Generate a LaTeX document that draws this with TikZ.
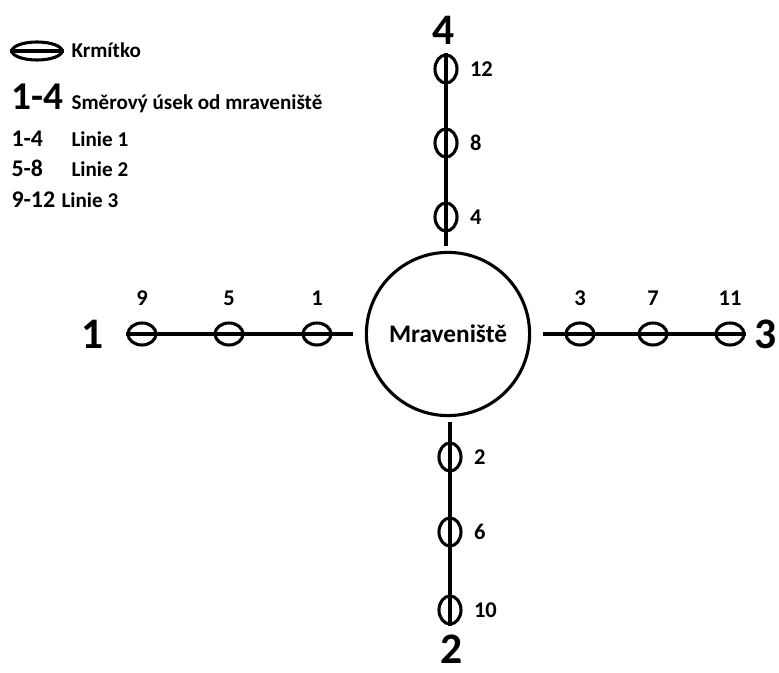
\documentclass[tikz,border=0pt]{standalone}
\usepackage{fontspec}
\setmainfont{Carlito}
\usepackage{tikz}
\usetikzlibrary{positioning,shapes.geometric,calc}

\begin{document}
\begin{tikzpicture}[
  hillnode/.style={draw, circle, line width=2.2pt, minimum size=4.08cm, inner sep=0pt,
    font=\fontsize{18}{20}\selectfont\bfseries},
  hfeed/.style={draw, ellipse, line width=2.2pt, minimum width=0.7cm, minimum height=0.55cm, inner sep=0pt},
  vfeed/.style={draw, ellipse, line width=2.2pt, minimum width=0.55cm, minimum height=0.7cm, inner sep=0pt},
  num/.style={font=\fontsize{16}{18}\selectfont\bfseries, inner sep=0pt},
  dir/.style={font=\fontsize{31}{33}\selectfont\bfseries, inner sep=0pt},
  legtxt/.style={font=\fontsize{15}{17}\selectfont\bfseries, inner sep=0pt},
  legnum/.style={font=\fontsize{17}{19}\selectfont\bfseries, inner sep=0pt},
  legbig/.style={font=\fontsize{28}{30}\selectfont\bfseries, inner sep=0pt},
  trail/.style={line width=2.4pt},
  line width=2.2pt, color=black
]
\useasboundingbox (-11.2,-8.475) rectangle (8.275,8.35);

\node[hillnode] (hill) at (0,0) {Mraveniště};

\node[hfeed, label={[num, label distance=3.5mm]above:9}] (f9) at (-7.65,0) {};
\node[hfeed, label={[num, label distance=3.5mm]above:5}] (f5) at (-5.475,0) {};
\node[hfeed, label={[num, label distance=3.5mm]above:1}] (f1) at (-3.275,0) {};

\node[hfeed, label={[num, label distance=3.5mm]above:3}] (f3) at (3.3,0) {};
\node[hfeed, label={[num, label distance=3.5mm]above:7}] (f7) at (5.125,0) {};
\node[hfeed, label={[num, label distance=3.5mm]above:11}] (f11) at (7.05,0) {};

\node[vfeed, label={[num, label distance=2.5mm]right:4}] (f4) at (-0.05,2.925) {};
\node[vfeed, label={[num, label distance=2.5mm]right:8}] (f8) at (-0.05,4.775) {};
\node[vfeed, label={[num, label distance=2.5mm]right:12}] (f12) at (-0.05,6.625) {};

\node[vfeed, label={[num, label distance=2.5mm]right:2}] (f2) at (0.05,-3.075) {};
\node[vfeed, label={[num, label distance=2.5mm]right:6}] (f6) at (0.05,-4.95) {};
\node[vfeed, label={[num, label distance=2.5mm]right:10}] (f10) at (0.05,-6.9) {};

\draw[trail] (f9.west) -- ([xshift=-3mm]hill.west);
\draw[trail] ([xshift=3mm]hill.east) -- (f11.east);
\draw[trail] (f12.north) -- ([xshift=-0.05cm,yshift=1.2mm]hill.north);
\draw[trail] ([xshift=0.05cm,yshift=-1.2mm]hill.south) -- (f10.south);

\node[dir] (d1) at (-8.875,0) {1};
\node[dir] (d2) at (0.1,-7.88) {2};
\node[dir] (d3) at (7.95,0) {3};
\node[dir] (d4) at (-0.1,7.6) {4};

\node[hfeed, minimum width=1.25cm, minimum height=0.45cm] (key) at (-10.275,7.075) {};
\draw (key.west) -- (key.east);
\node[legtxt, anchor=west] (keytxt) at (-9.45,7.1) {Krmítko};

\node[legbig, anchor=base west] (rng) at (-10.95,5.6) {1-4};
\node[legtxt, anchor=base west] (rngtxt) at (-9.45,5.6) {Směrový úsek od mraveniště};
\node[legnum, anchor=base west] (l1) at (-10.95,4.675) {1-4};
\node[legtxt, anchor=base west] (l1txt) at (-9.45,4.675) {Linie 1};
\node[legnum, anchor=base west] (l2) at (-10.95,3.925) {5-8};
\node[legtxt, anchor=base west] (l2txt) at (-9.45,3.925) {Linie 2};
\node[legnum, anchor=base west] (l3) at (-10.95,3.15) {9-12};
\node[legtxt, anchor=base west] (l3txt) at (-9.7,3.15) {Linie 3};
\end{tikzpicture}
\end{document}
